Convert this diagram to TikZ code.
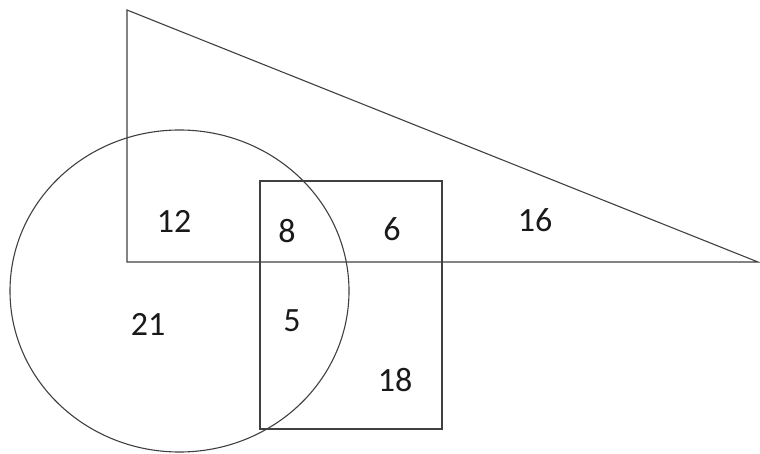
\documentclass[tikz,border=0pt]{standalone}
\usepackage{fontspec}
\setmainfont{Carlito}
\usepackage{tikz}
\definecolor{setline}{HTML}{404040}
\tikzset{
  setshape/.style = {draw=setline, line width=1.1pt},
  num/.style      = {font=\fontsize{34}{40}\selectfont, text=black!90, inner sep=0pt},
}

\begin{document}
\begin{tikzpicture}[x=1pt, y=-1pt]
    \useasboundingbox (0,0) rectangle (760,454);
    % The three sets
    \draw[setshape] (127,10) -- (127,262) -- (758,262) -- cycle;
    \draw[setshape] (179.5,291) ellipse [x radius=169.5, y radius=161];
    \draw[setshape] (260,181) rectangle (442,429);
    % Region counts
    \node[num] (tri)    at (174,221) {12};
    \node[num] (tricir) at (287,231) {8};
    \node[num] (trirec) at (392,229) {6};
    \node[num] (trionly) at (535,220) {16};
    \node[num] (cir)    at (148,324) {21};
    \node[num] (cirrec) at (292,321) {5};
    \node[num] (rec)    at (395,380) {18};
  \end{tikzpicture}
\end{document}
